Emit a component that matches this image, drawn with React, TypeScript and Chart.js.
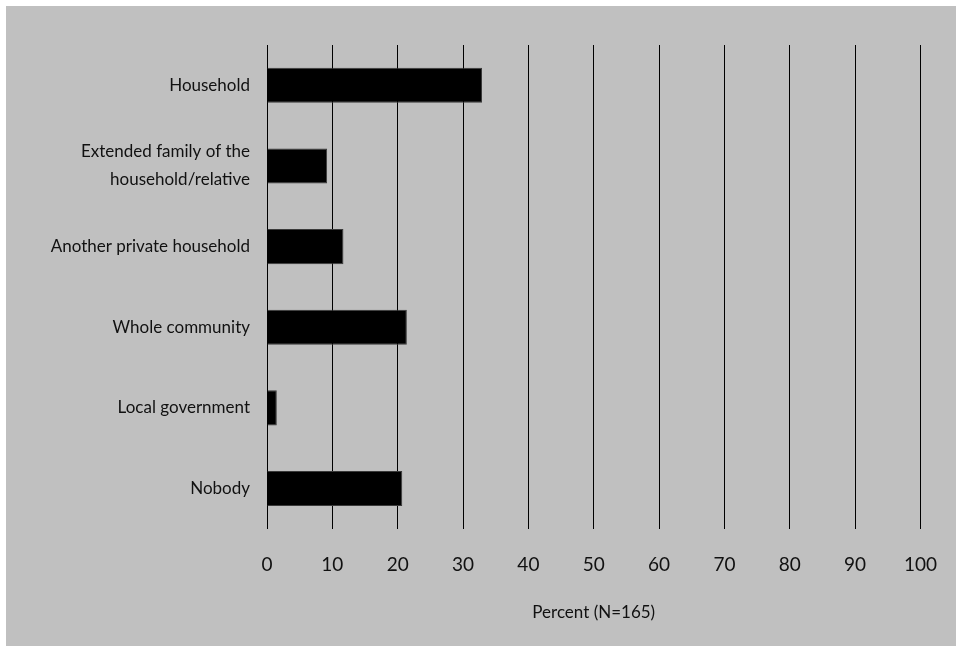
import React, { useEffect, useRef } from "react";
import { Chart, registerables } from "chart.js";

Chart.register(...registerables);

const categories: (string | string[])[] = [
  "Household",
  ["Extended family of the", "household/relative"],
  "Another private household",
  "Whole community",
  "Local government",
  "Nobody",
];
const percentValues: number[] = [32.9, 9.2, 11.7, 21.4, 1.5, 20.7];
const axisTitle = "Percent (N=165)";
const xMin = 0;
const xMax = 100;
const xStep = 10;

const FONT = "Lato, 'Open Sans', 'DejaVu Sans', sans-serif";

export default function App() {
  const ref = useRef<HTMLCanvasElement | null>(null);

  useEffect(() => {
    if (!ref.current) return;
    const chart = new Chart(ref.current, {
      type: "bar",
      data: {
        labels: categories,
        datasets: [
          {
            data: percentValues,
            backgroundColor: "#000000",
            borderColor: "#3a3a3a",
            borderWidth: 1,
            categoryPercentage: 1,
            barPercentage: 0.435,
          },
        ],
      },
      options: {
        indexAxis: "y",
        animation: false,
        responsive: false,
        devicePixelRatio: 1,
        layout: { padding: { top: 39, right: 30, bottom: 19, left: 0 } },
        plugins: {
          legend: { display: false },
          tooltip: { enabled: false },
        },
        scales: {
          x: {
            min: xMin,
            max: xMax,
            ticks: {
              stepSize: xStep,
              padding: 19,
              color: "#111111",
              font: { family: FONT, size: 19, lineHeight: 1.83 },
              maxRotation: 0,
            },
            grid: { color: "#000000", lineWidth: 1, drawTicks: false },
            border: { display: false },
            title: {
              display: true,
              text: axisTitle,
              color: "#111111",
              font: { family: FONT, size: 17 },
              padding: { top: 1, bottom: 4 },
            },
          },
          y: {
            ticks: {
              padding: 17,
              color: "#111111",
              font: { family: FONT, size: 17, lineHeight: 1.65 },
            },
            grid: { display: false, drawTicks: false },
            border: { display: false },
            afterFit: (scale: any) => {
              scale.width = 261;
            },
          },
        },
      },
    });
    return () => chart.destroy();
  }, []);

  return (
    <div
      style={{
        position: "absolute",
        left: 0,
        top: 0,
        width: 956,
        height: 646,
        background: "#ffffff",
      }}
    >
      <canvas
        ref={ref}
        width={950}
        height={640}
        style={{
          position: "absolute",
          left: 6,
          top: 6,
          width: 950,
          height: 640,
          background: "#c0c0c0",
        }}
      />
    </div>
  );
}
